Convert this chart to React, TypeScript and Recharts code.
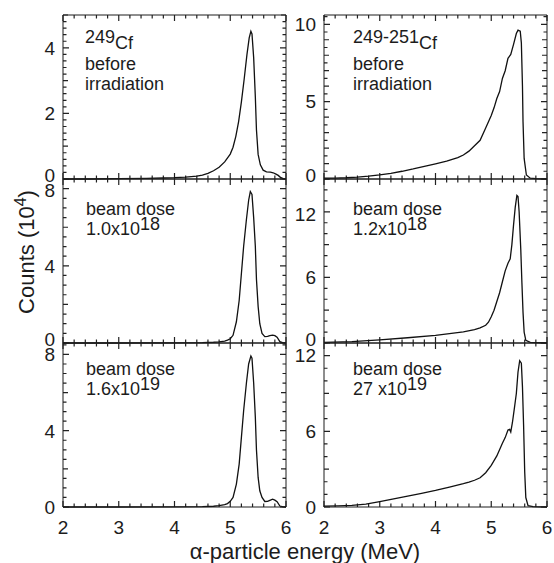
import { Line, LineChart, XAxis, YAxis } from 'recharts'

const INK = '#1c1c1c'
const FONT = '"Liberation Sans", Arial, Helvetica, sans-serif'

// x axis: alpha-particle energy (MeV)
const energyLabels = [2, 3, 4, 5, 6]
const energyMinorStep = 0.2

// 249Cf before irradiation, counts in 10^4
const cf249Energy = [2.0, 2.5, 3.0, 3.5, 3.8, 4.0, 4.2, 4.4, 4.5, 4.6, 4.7, 4.8, 4.9, 5.0, 5.05, 5.1, 5.15, 5.2, 5.25, 5.3, 5.34, 5.37, 5.39, 5.42, 5.45, 5.47, 5.5, 5.54, 5.59, 5.65, 5.72, 5.77, 5.82, 5.86, 5.9, 5.95, 6.0]
const cf249Counts = [0, 0, 0.01, 0.02, 0.03, 0.04, 0.06, 0.09, 0.12, 0.17, 0.25, 0.36, 0.52, 0.76, 0.97, 1.3, 1.75, 2.35, 3.05, 3.8, 4.3, 4.5, 4.42, 3.7, 2.5, 1.5, 0.75, 0.43, 0.27, 0.22, 0.21, 0.19, 0.15, 0.11, 0.05, 0.01, 0]

// 249-251Cf before irradiation
const cfMixEnergy = [2.0, 2.2, 2.4, 2.6, 2.8, 3.0, 3.2, 3.4, 3.6, 3.8, 4.0, 4.2, 4.4, 4.5, 4.6, 4.7, 4.8, 4.9, 5.0, 5.05, 5.1, 5.15, 5.2, 5.25, 5.3, 5.35, 5.4, 5.45, 5.48, 5.52, 5.54, 5.56, 5.57, 5.59, 5.63, 5.7, 5.8, 6.0]
const cfMixCounts = [0.05, 0.06, 0.08, 0.12, 0.18, 0.26, 0.37, 0.5, 0.65, 0.82, 0.98, 1.15, 1.38, 1.55, 1.8, 2.15, 2.5, 3.3, 4.1, 4.6, 5.2, 5.65, 6.5, 7.0, 7.8, 8.05, 8.7, 9.4, 9.62, 9.55, 8.8, 6.0, 3.7, 1.33, 0.26, 0.05, 0.02, 0]

// beam dose 1.0x10^18 (249Cf)
const dose1Energy = [2.0, 3.0, 4.0, 4.5, 4.7, 4.8, 4.9, 4.95, 5.0, 5.05, 5.11, 5.16, 5.2, 5.24, 5.29, 5.33, 5.36, 5.39, 5.42, 5.45, 5.47, 5.5, 5.53, 5.57, 5.62, 5.67, 5.71, 5.76, 5.8, 5.84, 5.89, 5.95, 6.0]
const dose1Counts = [0, 0, 0.01, 0.02, 0.04, 0.06, 0.1, 0.15, 0.22, 0.4, 1.1, 2.2, 3.6, 5.0, 6.4, 7.4, 7.85, 7.7, 6.5, 5.0, 3.3, 1.9, 1.0, 0.5, 0.33, 0.34, 0.38, 0.41, 0.38, 0.3, 0.07, 0.01, 0]

// beam dose 1.2x10^18 (249-251Cf)
const dose2Energy = [2.0, 2.5, 3.0, 3.5, 4.0, 4.5, 4.7, 4.8, 4.9, 4.95, 5.0, 5.05, 5.1, 5.15, 5.2, 5.25, 5.3, 5.34, 5.37, 5.4, 5.43, 5.46, 5.48, 5.5, 5.53, 5.55, 5.57, 5.59, 5.62, 5.7, 6.0]
const dose2Counts = [0.05, 0.12, 0.28, 0.48, 0.7, 1.02, 1.22, 1.38, 1.62, 1.9, 2.4, 3.0, 3.8, 4.6, 5.6, 6.6, 7.3, 7.7, 9.0, 10.8, 12.4, 13.5, 13.4, 12.0, 8.5, 5.5, 2.8, 1.0, 0.25, 0.05, 0]

// beam dose 1.6x10^19 (249Cf)
const dose3Energy = [2.0, 3.0, 4.0, 4.5, 4.7, 4.8, 4.9, 4.95, 5.0, 5.05, 5.11, 5.16, 5.2, 5.24, 5.29, 5.33, 5.37, 5.39, 5.42, 5.45, 5.47, 5.5, 5.53, 5.57, 5.62, 5.67, 5.71, 5.76, 5.8, 5.84, 5.89, 5.95, 6.0]
const dose3Counts = [0, 0, 0.01, 0.02, 0.04, 0.07, 0.12, 0.18, 0.3, 0.5, 1.2, 2.25, 3.65, 5.05, 6.5, 7.5, 7.92, 7.8, 6.5, 4.7, 3.0, 1.55, 0.85, 0.5, 0.29, 0.3, 0.35, 0.41, 0.36, 0.28, 0.05, 0.01, 0]

// beam dose 27x10^19 (249-251Cf)
const dose4Energy = [2.0, 2.25, 2.5, 2.75, 3.0, 3.25, 3.5, 3.75, 4.0, 4.25, 4.5, 4.6, 4.7, 4.8, 4.9, 5.0, 5.1, 5.2, 5.25, 5.3, 5.33, 5.35, 5.38, 5.42, 5.45, 5.48, 5.51, 5.54, 5.56, 5.58, 5.6, 5.62, 5.66, 5.75, 6.0]
const dose4Counts = [0.07, 0.09, 0.13, 0.22, 0.43, 0.65, 0.87, 1.08, 1.31, 1.58, 1.85, 1.97, 2.12, 2.32, 2.72, 3.3, 4.05, 5.05, 5.5, 6.1, 6.15, 5.95, 6.7, 8.0, 9.0, 10.7, 11.6, 11.4, 9.5, 6.5, 2.8, 0.75, 0.1, 0.03, 0]

const zip = (e: number[], c: number[]) => e.map((v, i) => ({ e: v, c: c[i] }))

const steps = (max: number, step: number) => {
  const out: number[] = []
  for (let i = 0; i * step <= max + 1e-9; i++) out.push(+(i * step).toFixed(3))
  return out
}
const near = (v: number, list: number[]) => list.some((m) => Math.abs(m - v) < 1e-6)
const isMult = (v: number, step: number) => Math.abs(v / step - Math.round(v / step)) < 1e-6

const COL_X = [63, 324]
const ROW_Y = [15, 179, 343]
const PW = 223
const PH = 164
const YW = 44
const RW = 10
const TH = 10
const BH = 40
const GAP = 8 // default tick size + margin between label anchor and axis line
const X_MIN = 2
const X_MAX = 6

const energyTicks = steps(X_MAX - X_MIN, energyMinorStep).map((v) => +(v + X_MIN).toFixed(3))

const panels = [
  { data: zip(cf249Energy, cf249Counts), col: 0, row: 0, yMax: 5, labels: [0, 2, 4], mid: 1, minor: 0.2 },
  { data: zip(cfMixEnergy, cfMixCounts), col: 1, row: 0, yMax: 10.6, labels: [0, 5, 10], mid: 1, minor: 0.5 },
  { data: zip(dose1Energy, dose1Counts), col: 0, row: 1, yMax: 8.5, labels: [0, 4, 8], mid: 2, minor: 0.5 },
  { data: zip(dose2Energy, dose2Counts), col: 1, row: 1, yMax: 15, labels: [0, 6, 12], mid: 3, minor: 1 },
  { data: zip(dose3Energy, dose3Counts), col: 0, row: 2, yMax: 8.6, labels: [0, 4, 8], mid: 2, minor: 0.5 },
  { data: zip(dose4Energy, dose4Counts), col: 1, row: 2, yMax: 13, labels: [0, 6, 12], mid: 3, minor: 1 },
]

// short segments as one broken series: [x1, y1, x2, y2] -> points with a null gap after each
const segments = (segs: number[][]) =>
  segs.flatMap(([x1, y1, x2, y2]) => [
    { e: x1, k: y1 },
    { e: x2, k: y2 },
    { e: x2, k: null },
  ])

function Panel({ p }: { p: (typeof panels)[number] }) {
  const yTicks = steps(p.yMax, p.minor)
  const yLen = (v: number) => (near(v, p.labels) ? 6 : isMult(v, p.mid) ? 5 : 3.5)
  const xLen = (v: number) => (near(v, energyLabels) ? 6 : 3.5)
  const perPxY = p.yMax / PH
  const perPxX = (X_MAX - X_MIN) / PW
  const showX = p.row === 2
  const topLabel = p.labels[p.labels.length - 1]
  const labelShift = (v: number) => (v === 0 && p.row < 2 ? -4 : p.row === 1 && v === topLabel ? 2 : 0)

  const tickMarks = segments([
    ...energyTicks.map((v) => [v, 0, v, xLen(v) * perPxY]),
    ...energyTicks.map((v) => [v, p.yMax, v, p.yMax - xLen(v) * perPxY]),
    ...yTicks.map((v) => [X_MIN, v, X_MIN + yLen(v) * perPxX, v]),
    ...yTicks.map((v) => [X_MAX, v, X_MAX - yLen(v) * perPxX, v]),
  ])

  return (
    <div style={{ position: 'absolute', left: COL_X[p.col] - YW, top: ROW_Y[p.row] - TH }}>
      <LineChart width={YW + PW + RW} height={TH + PH + BH} data={p.data} margin={{ top: 0, right: 0, bottom: 0, left: 0 }}>
        <XAxis
          xAxisId='b'
          dataKey='e'
          type='number'
          domain={[X_MIN, X_MAX]}
          ticks={energyLabels}
          interval={0}
          height={BH}
          tickLine={false}
          axisLine={{ stroke: INK }}
          tick={(t: any) =>
            showX ? (
              <text x={t.x} y={t.y - GAP + 27} textAnchor='middle' fontSize={19} fill={INK} fontFamily={FONT}>
                {t.payload.value}
              </text>
            ) : (
              <g />
            )
          }
        />
        <XAxis
          xAxisId='t'
          dataKey='e'
          orientation='top'
          type='number'
          domain={[X_MIN, X_MAX]}
          ticks={energyLabels}
          height={TH}
          tickLine={false}
          axisLine={{ stroke: INK }}
          tick={false}
        />
        <YAxis
          yAxisId='l'
          type='number'
          domain={[0, p.yMax]}
          ticks={p.labels}
          interval={0}
          width={YW}
          tickLine={false}
          axisLine={{ stroke: INK }}
          tick={(t: any) => (
            <text
              x={t.x}
              y={t.y + labelShift(t.payload.value)}
              dy='0.36em'
              textAnchor='end'
              fontSize={19}
              fill={INK}
              fontFamily={FONT}
            >
              {t.payload.value}
            </text>
          )}
        />
        <YAxis
          yAxisId='r'
          orientation='right'
          type='number'
          domain={[0, p.yMax]}
          ticks={p.labels}
          width={RW}
          tickLine={false}
          axisLine={{ stroke: INK }}
          tick={false}
        />
        <Line
          xAxisId='b'
          yAxisId='l'
          data={tickMarks}
          dataKey='k'
          type='linear'
          stroke='#222'
          strokeWidth={1.2}
          dot={false}
          activeDot={false}
          connectNulls={false}
          legendType='none'
          isAnimationActive={false}
        />
        <Line
          xAxisId='b'
          yAxisId='l'
          dataKey='c'
          type='linear'
          stroke='#111'
          strokeWidth={1.3}
          dot={false}
          isAnimationActive={false}
        />
      </LineChart>
    </div>
  )
}

function Notes() {
  const t = { fontSize: 18, fill: INK, fontFamily: FONT }
  return (
    <svg width={554} height={563} style={{ position: 'absolute', left: 0, top: 0, pointerEvents: 'none' }}>
      <text x={85} y={49} {...t}>
        <tspan dy={-6}>249</tspan>
        <tspan dy={6}>Cf</tspan>
      </text>
      <text x={85} y={70} {...t}>before</text>
      <text x={85} y={89.5} {...t}>irradiation</text>

      <text x={353} y={49} {...t}>
        <tspan dy={-6}>249-251</tspan>
        <tspan dy={6}>Cf</tspan>
      </text>
      <text x={353} y={69.5} {...t}>before</text>
      <text x={353} y={89.5} {...t}>irradiation</text>

      <text x={86} y={215} {...t}>beam dose</text>
      <text x={86} y={235} {...t}>
        1.0x10<tspan dy={-5}>18</tspan>
      </text>
      <text x={353} y={215} {...t}>beam dose</text>
      <text x={353} y={235} {...t}>
        1.2x10<tspan dy={-5}>18</tspan>
      </text>

      <text x={86} y={375} {...t}>beam dose</text>
      <text x={86} y={395} {...t}>
        1.6x10<tspan dy={-5}>19</tspan>
      </text>
      <text x={353} y={375} {...t}>beam dose</text>
      <text x={353} y={395} {...t}>
        27 x10<tspan dy={-5}>19</tspan>
      </text>

      <text x={34} y={252} transform='rotate(-90 34 252)' textAnchor='middle' fontSize={22} fill={INK} fontFamily={FONT}>
        Counts (10<tspan dy={-8} fontSize={16}>4</tspan>
        <tspan dy={8}>)</tspan>
      </text>
      <text x={305} y={559} textAnchor='middle' fontSize={22} fill={INK} fontFamily={FONT}>
        α-particle energy (MeV)
      </text>
    </svg>
  )
}

export default function App() {
  return (
    <div style={{ position: 'absolute', left: 0, top: 0, width: 554, height: 563, background: '#fff' }}>
      {panels.map((p, i) => (
        <Panel key={i} p={p} />
      ))}
      <Notes />
    </div>
  )
}
